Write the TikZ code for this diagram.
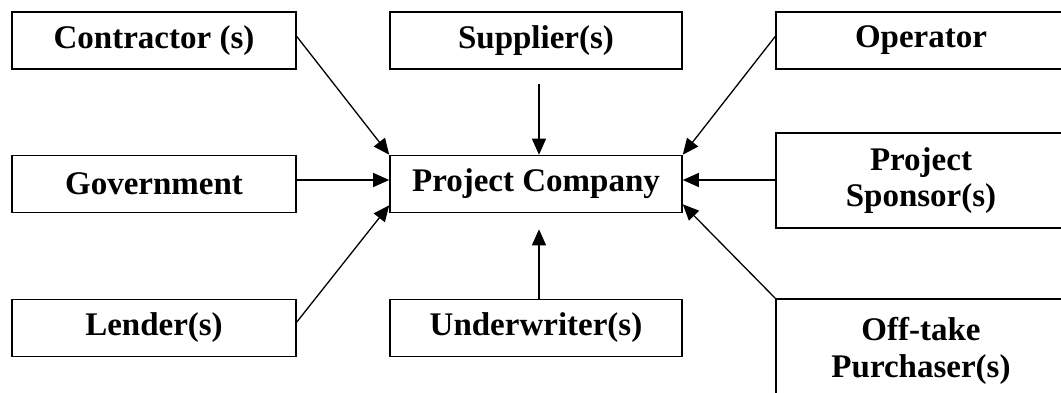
\documentclass[tikz,border=0pt]{standalone}
\usepackage{fontspec}
\setmainfont{Liberation Serif}
\usetikzlibrary{arrows.meta}
\tikzset{
  partybox/.style={draw=black, line width=1.6pt, rectangle, inner sep=0pt,
    font=\fontsize{33}{36.5}\selectfont\bfseries, align=center,
    minimum width=284pt, minimum height=57pt},
  link/.style={line width=1.3pt, -{Triangle[length=16pt,width=14pt]}}
}
\begin{document}
\begin{tikzpicture}[x=1pt,y=-1pt]
\useasboundingbox (0,0) rectangle (1061,392);
\clip (0,0) rectangle (1061,392);
\fill[white] (0,0) rectangle (1061,392);
% left column
\node[partybox] (contr) at (154,40.5) {Contractor (s)};
\node[partybox] (gov) at (154,184) {Government};
\node[partybox] (lend) at (154,328) {Lender(s)};
% middle column
\node[partybox, minimum width=292pt] (sup) at (536,40.5) {Supplier(s)};
\node[partybox, minimum width=292pt] (pc) at (536,184) {Project Company};
\node[partybox, minimum width=292pt] (und) at (536,328) {Underwriter(s)};
% right column
\node[partybox, minimum width=290pt] (op) at (921,40.5) {Operator};
\node[partybox, minimum width=290pt, minimum height=95pt] (spon) at (921,180.5) {Project\\Sponsor(s)};
\node[partybox, minimum width=290pt, minimum height=104pt] (off) at (921,351) {Off-take\\Purchaser(s)};
% connectors
\draw[link] ([yshift=4pt]contr.east) -- (pc.north west);
\draw[link] ([xshift=3pt,yshift=-14pt]sup.south) -- ([xshift=3pt]pc.north);
\draw[link] ([yshift=4pt]op.west) -- (pc.north east);
\draw[link] ([yshift=4pt]gov.east) -- ([yshift=4pt]pc.west);
\draw[link] ([yshift=0.5pt]spon.west) -- ([yshift=4pt]pc.east);
\draw[link] ([yshift=6pt]lend.east) -- ([yshift=8pt]pc.south west);
\draw[link] ([xshift=3pt]und.north) -- ([xshift=3pt,yshift=-16pt]pc.south);
\draw[link] (off.north west) -- ([yshift=9pt]pc.south east);
\end{tikzpicture}
\end{document}
